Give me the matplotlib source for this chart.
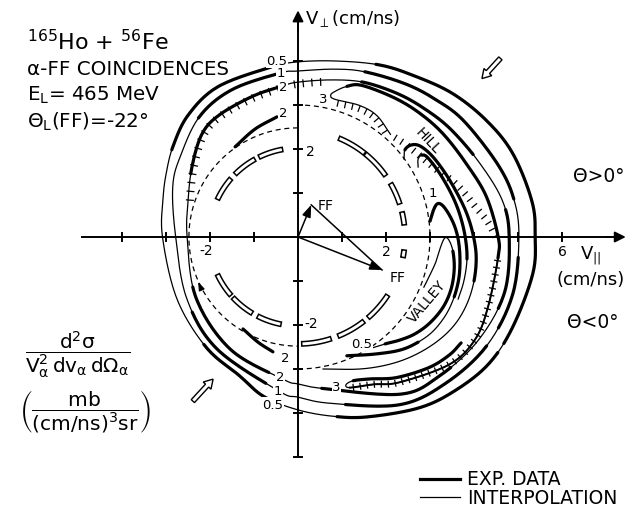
import numpy as np
import matplotlib
matplotlib.use("Agg")
import matplotlib.pyplot as plt
from matplotlib.patches import Polygon, FancyArrow

# ---------------- data (velocities in cm/ns) ----------------
# closed contour rings, polar (angle deg, radius)
C05_ANG = [0, 8.5, 21, 31.5, 43, 55, 65, 78, 90, 99, 118, 132, 144, 154, 164, 180,
           207, 230, 247, 258, 270, 281, 291, 305, 315, 326, 337, 351]
C05_R = [5.39, 5.38, 5.24, 5.04, 4.79, 4.5, 4.32, 4.09, 3.98, 3.91, 3.87, 3.73, 3.51,
         3.33, 3.19, 3.08, 3.09, 3.26, 3.42, 3.71, 3.93, 4.15, 4.38, 4.75, 4.98, 5.2, 5.29, 5.4]
C05_THICK = [(-28, 66), (99, 146), (228, 262), (282, 330)]

C1_ANG = [0, 10, 20, 35, 45, 55, 68, 78, 90, 96, 114, 129, 145, 158, 180, 209, 234,
          263, 270, 281, 301, 315, 330, 345]
C1_R = [5.02, 4.98, 4.83, 4.6, 4.42, 4.25, 4.05, 3.9, 3.77, 3.75, 3.67, 3.54, 3.25,
        3.07, 2.78, 2.89, 3.14, 3.53, 3.64, 3.85, 4.45, 4.72, 4.95, 5.05]
C1_THICK = [(-25, -5), (10, 68), (96, 130), (215, 258), (285, 330)]

C2_ANG = [0, 10, 22, 35, 45, 55, 67, 78, 90, 96, 108, 123, 133, 146, 161, 180, 211,
          239, 264, 270, 280, 303, 315, 330, 345]
C2_R = [4.8, 4.72, 4.46, 4.25, 4.1, 3.97, 3.82, 3.65, 3.52, 3.45, 3.36, 3.3, 3.2, 2.9,
        2.64, 2.52, 2.7, 2.98, 3.25, 3.34, 3.5, 4.26, 4.5, 4.72, 4.86]
C2_THICK = [(-20, 8), (25, 68), (96, 150), (205, 258), (278, 320)]
C2_HATCH = (80, 165)

# contour 3 crescent (open path, polar)
C3_ANG = [-33, -38, -45, -55, -63, -69, -72, -71, -63, -55, -40, -30, -20, -6, 0, 12,
          23, 35, 45, 55, 67, 72, 76, 77, 75, 65, 57, 48]
C3_R = [4.42, 4.36, 4.2, 3.9, 3.62, 3.5, 3.53, 3.62, 3.76, 4.03, 4.5, 4.65, 4.6, 4.57,
        4.55, 4.38, 4.18, 4.05, 3.95, 3.85, 3.74, 3.6, 3.4, 3.3, 3.24, 3.3, 3.29, 3.14]

# inner open contours (cartesian)
VAL_X = [1.59, 1.98, 2.32, 2.66, 3.0, 3.3, 3.48, 3.55, 3.52, 3.43, 3.34, 3.25, 3.14, 3.0, 2.86]
VAL_Y = [-2.55, -2.43, -2.34, -2.2, -1.95, -1.59, -1.18, -0.73, -0.32, -0.07, -0.02,
         -0.2, -0.55, -0.86, -1.14]
L1_X = [3.0, 3.07, 3.16, 3.27, 3.41, 3.55, 3.64, 3.68, 3.66, 3.55, 3.36, 3.07, 2.73,
        2.32, 1.75, 1.11]
L1_Y = [0.36, 0.59, 0.75, 0.73, 0.55, 0.27, -0.05, -0.45, -0.91, -1.36, -1.77, -2.14,
        -2.39, -2.57, -2.66, -2.7]
HOOK2_X = [2.41, 2.43, 2.57, 2.77, 3.05, 3.36, 3.64, 3.84, 3.98, 4.05, 4.0, 3.84, 3.57,
           3.18, 2.66, 2.09, 1.41, 0.57]
HOOK2_Y = [1.77, 1.98, 2.09, 2.07, 1.84, 1.43, 0.95, 0.52, 0.05, -0.45, -1.0, -1.52,
           -1.98, -2.36, -2.68, -2.89, -3.0, -3.0]
HOOK3_X = [2.73, 2.73, 2.82, 2.95, 3.23, 3.5, 3.68, 3.8, 3.84, 3.77, 3.64]
HOOK3_Y = [1.59, 1.77, 1.86, 1.8, 1.43, 0.95, 0.5, 0.0, -0.5, -1.0, -1.41]
RIDGE_X = [2.14, 2.45, 2.85, 3.16, 3.52, 3.8, 4.02, 4.3, 4.5]
RIDGE_Y = [2.3, 2.1, 1.78, 1.52, 1.27, 0.98, 0.7, 0.36, 0.0]
IN2_UP_X = [-0.48, -0.98, -1.43]
IN2_UP_Y = [2.73, 2.45, 2.05]
IN2_LO_X = [-0.57, -0.91, -1.25]
IN2_LO_Y = [-2.61, -2.39, -2.09]

# reference circles
DASH_LEFT_R = 2.48
DASH_RIGHT_R = 3.0
HOLLOW_LEFT_R = 2.02
HOLLOW_LEFT_C = [108, 127, 147, 213, 231, 251]
HOLLOW_LEFT_H = [8, 8, 8, 8, 8, 8]
HOLLOW_RIGHT_R = 2.43
HOLLOW_RIGHT_C = [59.5, 43, 24, 10, -9, -41, -60, -80]
HOLLOW_RIGHT_H = [8, 8, 6, 3.5, 2, 8, 8, 8]

# fission fragment vectors
FF1 = (0.3, 0.73)
FF2 = (1.91, -0.75)

TICK_X = [-4, -3, -2, -1, 1, 2, 3, 4, 5, 6]
TICK_Y = [-5, -4, -3, -2, -1, 1, 2, 3, 4]

CONTOUR_LABELS = [("0.5", -0.48, 4.0), ("1", -0.39, 3.73), ("2", -0.34, 3.43),
                  ("2", -0.34, 2.84), ("3", 0.57, 3.15), ("1", 3.07, 1.02),
                  ("0.5", 1.45, -2.43), ("3", 0.87, -3.39), ("2", -0.41, -3.16),
                  ("1", -0.45, -3.5), ("0.5", -0.57, -3.8), ("2", -0.3, -2.73)]

LW_THICK = 2.3
LW_THIN = 0.9
N = 16

# ---------------- figure ----------------
plt.rcParams['font.family'] = ['DejaVu Sans']
plt.rcParams['mathtext.default'] = 'regular'
fig = plt.figure(figsize=(6.35, 5.06), dpi=100)
ax = fig.add_axes([0, 0, 1, 1])
ax.set_xlim(-6.773, 7.659)
ax.set_ylim(-6.091, 5.409)
ax.axis('off')


def smooth(pts, closed=False, n=N):
    P = np.asarray(pts, float)
    if closed:
        P = np.vstack([P[-1], P, P[0], P[1]])
    else:
        P = np.vstack([2 * P[0] - P[1], P, 2 * P[-1] - P[-2]])
    t = np.linspace(0, 1, n, endpoint=False)[:, None]
    out = []
    for i in range(1, len(P) - 2):
        p0, p1, p2, p3 = P[i - 1], P[i], P[i + 1], P[i + 2]
        out.append(0.5 * (2 * p1 + (-p0 + p2) * t + (2 * p0 - 5 * p1 + 4 * p2 - p3) * t ** 2
                          + (-p0 + 3 * p1 - 3 * p2 + p3) * t ** 3))
    out.append(P[-2][None])
    return np.vstack(out)


def polar(ang, r):
    a = np.radians(ang)
    r = np.asarray(r, float)
    return np.c_[r * np.cos(a), r * np.sin(a)]


def ticks(xy, spacing, a, b, lw=0.9):
    d = np.diff(xy, axis=0)
    seg = np.hypot(d[:, 0], d[:, 1])
    keep = seg > 1e-9
    xy0 = xy[:-1][keep]
    d = d[keep]
    seg = seg[keep]
    s = np.concatenate([[0], np.cumsum(seg)])
    for st in np.arange(spacing / 2, s[-1], spacing):
        i = min(max(np.searchsorted(s, st) - 1, 0), len(seg) - 1)
        f = (st - s[i]) / seg[i]
        p = xy0[i] + f * d[i]
        tv = d[i] / seg[i]
        nv = np.array([-tv[1], tv[0]])
        if np.dot(nv, p) > 0:
            nv = -nv
        ax.plot([p[0] + a * nv[0], p[0] + b * nv[0]], [p[1] + a * nv[1], p[1] + b * nv[1]],
                color='k', lw=lw, solid_capstyle='butt')


def draw_ring(ang, r, thick):
    d = smooth(polar(ang, r), closed=True)
    ax.plot(d[:, 0], d[:, 1], color='k', lw=LW_THIN)
    a = np.degrees(np.arctan2(d[:, 1], d[:, 0])) % 360
    for lo, hi in thick:
        m = ((a - lo) % 360) <= (hi - lo)
        ax.plot(d[:, 0], np.where(m, d[:, 1], np.nan), color='k', lw=LW_THICK,
                solid_capstyle='round')
    return d, a


def draw_open(x, y, thick, medium=()):
    d = smooth(np.c_[x, y])
    ax.plot(d[:, 0], d[:, 1], color='k', lw=LW_THIN)
    for i0, i1 in medium:
        ax.plot(d[i0 * N:i1 * N + 1, 0], d[i0 * N:i1 * N + 1, 1], color='k', lw=1.4)
    for i0, i1 in thick:
        ax.plot(d[i0 * N:i1 * N + 1, 0], d[i0 * N:i1 * N + 1, 1], color='k', lw=LW_THICK,
                solid_capstyle='round')
    return d


# axes with arrows
ax.plot([-4.9, 7.2], [0, 0], color='k', lw=1.4)
ax.annotate('', xy=(7.45, 0), xytext=(7.0, 0),
            arrowprops=dict(arrowstyle='-|>', color='k', lw=1.4, mutation_scale=16,
                            shrinkA=0, shrinkB=0))
ax.plot([0, 0], [-5.0, 4.9], color='k', lw=1.4)
ax.annotate('', xy=(0, 5.15), xytext=(0, 4.7),
            arrowprops=dict(arrowstyle='-|>', color='k', lw=1.4, mutation_scale=16,
                            shrinkA=0, shrinkB=0))
for tx in TICK_X:
    ax.plot([tx, tx], [-0.1, 0.1], color='k', lw=1.4)
for ty in TICK_Y:
    ax.plot([-0.1, 0.1], [ty, ty], color='k', lw=1.4)

# reference dashed circles
aL = np.radians(np.linspace(90, 270, 200))
ax.plot(DASH_LEFT_R * np.cos(aL), DASH_LEFT_R * np.sin(aL), color='k', lw=0.9,
        ls=(0, (4, 3)))
aR = np.radians(np.linspace(-90, 90, 200))
ax.plot(DASH_RIGHT_R * np.cos(aR), DASH_RIGHT_R * np.sin(aR), color='k', lw=0.9,
        ls=(0, (4, 3)))


def hollow_dash(r, c, h, w=0.1):
    a = np.radians(np.linspace(c - h, c + h, 20))
    outer = np.c_[(r + w / 2) * np.cos(a), (r + w / 2) * np.sin(a)]
    inner = np.c_[(r - w / 2) * np.cos(a[::-1]), (r - w / 2) * np.sin(a[::-1])]
    ax.add_patch(Polygon(np.vstack([outer, inner]), closed=True, fc='white', ec='k',
                         lw=1.1, zorder=3))


for c, h in zip(HOLLOW_LEFT_C, HOLLOW_LEFT_H):
    hollow_dash(HOLLOW_LEFT_R, c, h)
for c, h in zip(HOLLOW_RIGHT_C, HOLLOW_RIGHT_H):
    hollow_dash(HOLLOW_RIGHT_R, c, h)

# contour rings
draw_ring(C05_ANG, C05_R, C05_THICK)
draw_ring(C1_ANG, C1_R, C1_THICK)
d2, a2 = draw_ring(C2_ANG, C2_R, C2_THICK)
m2 = (a2 >= C2_HATCH[0]) & (a2 <= C2_HATCH[1])
ticks(d2[m2], 0.2, -0.05, 0.13)

# contour 3 crescent
c3 = polar(C3_ANG, C3_R)
d3 = draw_open(c3[:, 0], c3[:, 1], thick=[(0, 5), (13, 21)], medium=[(7, 13)])
ticks(d3[24 * N:27 * N + 1], 0.17, 0.0, 0.15)
ticks(d3[7 * N:13 * N + 1], 0.16, -0.08, 0.08)
ticks(smooth(np.c_[RIDGE_X, RIDGE_Y]), 0.17, -0.08, 0.08)

# inner contours
draw_open(VAL_X, VAL_Y, thick=[(1, 8)])
draw_open(L1_X, L1_Y, thick=[(0, 9), (12, 15)])
draw_open(HOOK2_X, HOOK2_Y, thick=[(1, 10)])
draw_open(HOOK3_X, HOOK3_Y, thick=[(2, 8)])
draw_open(IN2_UP_X, IN2_UP_Y, thick=[(0, 2)])
draw_open(IN2_LO_X, IN2_LO_Y, thick=[(0, 2)])

# fission fragment vectors
for tip in (FF1, FF2):
    ax.annotate('', xy=tip, xytext=(0, 0),
                arrowprops=dict(arrowstyle='-|>,head_length=0.6,head_width=0.22',
                                color='k', lw=1.1, mutation_scale=12, shrinkA=0, shrinkB=0))
ax.plot([FF1[0], FF2[0]], [FF1[1], FF2[1]], color='k', lw=1.1)
ax.text(0.62, 0.73, 'FF', fontsize=10, ha='center', va='center')
ax.text(2.27, -0.92, 'FF', fontsize=10, ha='center', va='center',
        bbox=dict(fc='white', ec='none', pad=0.3))

# small arrow on lower-left contour
ax.annotate('', xy=(-2.27, -1.02), xytext=(-2.19, -1.2),
            arrowprops=dict(arrowstyle='-|>,head_length=0.5,head_width=0.18',
                            color='k', lw=0.9, mutation_scale=10, shrinkA=0, shrinkB=0))

# hollow direction arrows
ax.add_patch(FancyArrow(4.6, 4.06, -0.42, -0.46, width=0.1, head_width=0.24,
                        head_length=0.2, length_includes_head=True, fc='white', ec='k',
                        lw=1.0, zorder=4))
ax.add_patch(FancyArrow(-2.39, -3.73, 0.46, 0.5, width=0.1, head_width=0.24,
                        head_length=0.2, length_includes_head=True, fc='white', ec='k',
                        lw=1.0, zorder=4))

# contour labels
for s, x, y in CONTOUR_LABELS:
    ax.text(x, y, s, fontsize=9.5, ha='center', va='center', zorder=5,
            bbox=dict(fc='white', ec='none', pad=0.4))
ax.text(2.95, 2.2, 'HILL', fontsize=10, rotation=-47, ha='center', va='center', zorder=5)
ax.text(2.93, -1.45, 'VALLEY', fontsize=10, rotation=50, ha='center', va='center',
        zorder=5)

# axis tick labels
ax.text(-2.08, -0.3, '-2', fontsize=10, ha='center', va='center')
ax.text(2.0, -0.32, '2', fontsize=10, ha='center', va='center')
ax.text(0.28, 1.95, '2', fontsize=10, ha='center', va='center')
ax.text(0.3, -1.95, '-2', fontsize=10, ha='center', va='center')

# axis titles
ax.text(0.16, 4.98, r'V$_\perp$(cm/ns)', fontsize=13, ha='left', va='center')
ax.text(6.0, -0.32, '6', fontsize=10, ha='center', va='center')
ax.text(6.66, -0.4, r'V$_{||}$', fontsize=13, ha='center', va='center')
ax.text(6.66, -0.95, '(cm/ns)', fontsize=13, ha='center', va='center')
ax.text(6.84, 1.39, 'Θ>0°', fontsize=13.5, ha='center', va='center')
ax.text(6.7, -1.93, 'Θ<0°', fontsize=13.5, ha='center', va='center')

# title block
ax.text(-6.16, 4.27, r'$^{165}$Ho + $^{56}$Fe', fontsize=16, ha='left', va='baseline')
ax.text(-6.16, 3.70, 'α-FF COINCIDENCES', fontsize=14.3, ha='left', va='baseline')
ax.text(-6.16, 3.11, r'E$_L$= 465 MeV', fontsize=14.3, ha='left', va='baseline')
ax.text(-6.16, 2.5, r'Θ$_L$(FF)=-22°', fontsize=14.3, ha='left', va='baseline')

# left unit expressions
ax.text(-5.02, -2.67, r'$\dfrac{d^2\sigma}{V_\alpha^2\,dv_\alpha\,d\Omega_\alpha}$',
        fontsize=14.5, ha='center', va='center')
ax.text(-4.84, -3.95, r'$\left(\dfrac{mb}{(cm/ns)^3sr}\right)$',
        fontsize=14.5, ha='center', va='center')

# legend
ax.plot([2.77, 3.68], [-5.5, -5.5], color='k', lw=LW_THICK)
ax.text(3.84, -5.5, 'EXP. DATA', fontsize=13.5, ha='left', va='center')
ax.plot([2.77, 3.68], [-5.91, -5.91], color='k', lw=LW_THIN)
ax.text(3.84, -5.91, 'INTERPOLATION', fontsize=13.5, ha='left', va='center')

fig.savefig('out.png', dpi=100)
